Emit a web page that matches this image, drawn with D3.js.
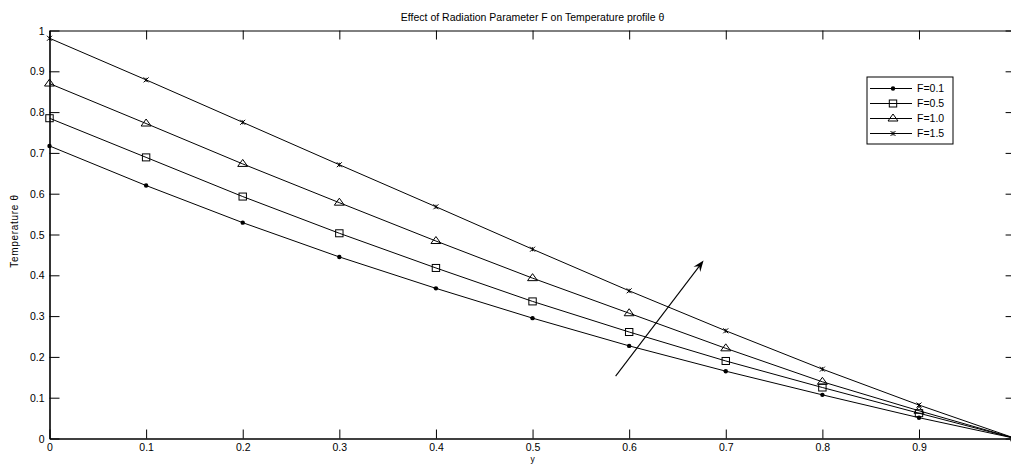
<!DOCTYPE html>
<html>
<head>
<meta charset="utf-8">
<script src="https://cdn.jsdelivr.net/npm/d3@7"></script>
<style>
  body { margin: 0; background: #fff; }
  text { font-family: "Liberation Sans", Arial, sans-serif; fill: #000; }
</style>
</head>
<body>
<div id="graph"></div>
<script>
// values
var xVals = [0, 0.1, 0.2, 0.3, 0.4, 0.5, 0.6, 0.7, 0.8, 0.9, 1.0]
var f01 = [0.717, 0.620, 0.529, 0.445, 0.368, 0.295, 0.227, 0.165, 0.107, 0.051, 0]
var f05 = [0.785, 0.689, 0.593, 0.503, 0.418, 0.336, 0.261, 0.190, 0.125, 0.062, 0]
var f10 = [0.870, 0.772, 0.673, 0.578, 0.484, 0.393, 0.307, 0.221, 0.139, 0.068, 0]
var f15 = [0.981, 0.879, 0.775, 0.671, 0.568, 0.464, 0.362, 0.264, 0.170, 0.082, 0]
var seriesNames = ['F=0.1', 'F=0.5', 'F=1.0', 'F=1.5']
var markerTypes = ['dot', 'square', 'triangle', 'cross']
var xTicks = [0, 0.1, 0.2, 0.3, 0.4, 0.5, 0.6, 0.7, 0.8, 0.9]
var yTicks = [0, 0.1, 0.2, 0.3, 0.4, 0.5, 0.6, 0.7, 0.8, 0.9, 1]
var arrowFrom = [0.586, 0.153]
var arrowTo = [0.677, 0.436]

var width = 1011, height = 464

var x = d3.scaleLinear().domain([0, 1]).range([49.5, 1015.6])
var y = d3.scaleLinear().domain([0, 1]).range([438.5, 30.5])

var svg = d3.select('#graph').append('svg')
  .attr('width', width)
  .attr('height', height)

// axes: ticks point inward like the matlab box
var fmt = function(d) { return d === 0 || d === 1 ? d3.format('d')(d) : d3.format('.1f')(d) }

var gLeft = svg.append('g')
  .attr('transform', 'translate(' + x(0) + ',0)')
  .call(d3.axisLeft(y).tickValues(yTicks).tickSize(-10).tickSizeOuter(0).tickPadding(5).tickFormat(fmt))
var gBottom = svg.append('g')
  .attr('transform', 'translate(0,' + y(0) + ')')
  .call(d3.axisBottom(x).tickValues(xTicks).tickSize(-9).tickSizeOuter(0).tickPadding(5.5).tickFormat(fmt))
var gTop = svg.append('g')
  .attr('transform', 'translate(0,' + y(1) + ')')
  .call(d3.axisTop(x).tickValues(xTicks).tickSize(-9).tickSizeOuter(0).tickFormat(''))
var gRight = svg.append('g')
  .attr('transform', 'translate(' + x(1) + ',0)')
  .call(d3.axisRight(y).tickValues(yTicks).tickSize(-10).tickSizeOuter(0).tickFormat(''))

svg.selectAll('.domain').attr('stroke', '#000')
svg.selectAll('.tick line').attr('stroke', '#000')
gLeft.select('.domain').attr('stroke-width', 1.6)
gBottom.select('.domain').attr('stroke-width', 1.6)
svg.selectAll('.tick text').style('font-size', '10.5px').attr('fill', '#000')
gLeft.selectAll('.tick text').attr('dy', '0.34em')

// series lines + markers
var allSeries = [f01, f05, f10, f15]
var line = d3.line()
  .x(function(d, i) { return x(xVals[i]) })
  .y(function(d) { return y(d) })

function drawMarker(g, type) {
  if (type === 'dot') {
    g.append('circle').attr('r', 2.2).attr('fill', '#000')
  } else if (type === 'square') {
    g.append('rect').attr('x', -3.7).attr('y', -3.5).attr('width', 7.4).attr('height', 7)
      .attr('fill', 'none').attr('stroke', '#000').attr('stroke-width', 1)
  } else if (type === 'triangle') {
    g.append('path').attr('d', 'M0,-4.5L5,2.5L-5,2.5Z')
      .attr('fill', 'none').attr('stroke', '#000').attr('stroke-width', 1)
  } else {
    g.append('path').attr('d', 'M-2.5,-2.5L2.5,2.5M-2.5,2.5L2.5,-2.5M0,-2L0,2')
      .attr('fill', 'none').attr('stroke', '#000').attr('stroke-width', 1)
  }
}

allSeries.forEach(function(vals, s) {
  svg.append('path')
    .datum(vals)
    .attr('d', line)
    .attr('fill', 'none')
    .attr('stroke', '#000')
    .attr('stroke-width', 1)
  vals.forEach(function(v, i) {
    var g = svg.append('g').attr('transform', 'translate(' + x(xVals[i]) + ',' + y(v) + ')')
    drawMarker(g, markerTypes[s])
  })
})

// legend
var legend = svg.append('g').attr('transform', 'translate(867,77)')
legend.append('rect')
  .attr('width', 86).attr('height', 67)
  .attr('fill', '#fff').attr('stroke', '#000').attr('stroke-width', 1)
seriesNames.forEach(function(name, i) {
  var row = legend.append('g').attr('transform', 'translate(0,' + (11.5 + i * 15) + ')')
  row.append('line').attr('x1', 3).attr('x2', 45).attr('y1', 0).attr('y2', 0)
    .attr('stroke', '#000').attr('stroke-width', 1)
  drawMarker(row.append('g').attr('transform', 'translate(26,0)'), markerTypes[i])
  row.append('text').attr('x', 50).attr('dy', '0.35em')
    .style('font-size', '10.5px').text(name)
})

// arrow showing increasing F
var ax1 = x(arrowFrom[0]), ay1 = y(arrowFrom[1]), ax2 = x(arrowTo[0]), ay2 = y(arrowTo[1])
var ang = Math.atan2(ay2 - ay1, ax2 - ax1)
svg.append('line')
  .attr('x1', ax1).attr('y1', ay1)
  .attr('x2', ax2 - 6 * Math.cos(ang)).attr('y2', ay2 - 6 * Math.sin(ang))
  .attr('stroke', '#000').attr('stroke-width', 1.1)
var hl = 11, hw = 4.2
var bx = ax2 - hl * Math.cos(ang), by = ay2 - hl * Math.sin(ang)
var nx = -Math.sin(ang), ny = Math.cos(ang)
var mx = ax2 - (hl * 0.65) * Math.cos(ang), my = ay2 - (hl * 0.65) * Math.sin(ang)
svg.append('path')
  .attr('d', 'M' + ax2 + ',' + ay2 +
    'L' + (bx + nx * hw) + ',' + (by + ny * hw) +
    'L' + mx + ',' + my +
    'L' + (bx - nx * hw) + ',' + (by - ny * hw) + 'Z')
  .attr('fill', '#000')

// titles
svg.append('text')
  .attr('x', (x(0) + x(1)) / 2).attr('y', 21)
  .attr('text-anchor', 'middle')
  .style('font-size', '10.5px')
  .text('Effect of Radiation Parameter F on Temperature profile \u03b8')

svg.append('text')
  .attr('transform', 'translate(18,231) rotate(-90)')
  .attr('text-anchor', 'middle')
  .style('font-size', '10px')
  .style('letter-spacing', '0.7px')
  .text('Temperature \u03b8')

svg.append('text')
  .attr('x', (x(0) + x(1)) / 2).attr('y', 462)
  .attr('text-anchor', 'middle')
  .style('font-size', '8.5px')
  .text('y')
</script>
</body>
</html>
